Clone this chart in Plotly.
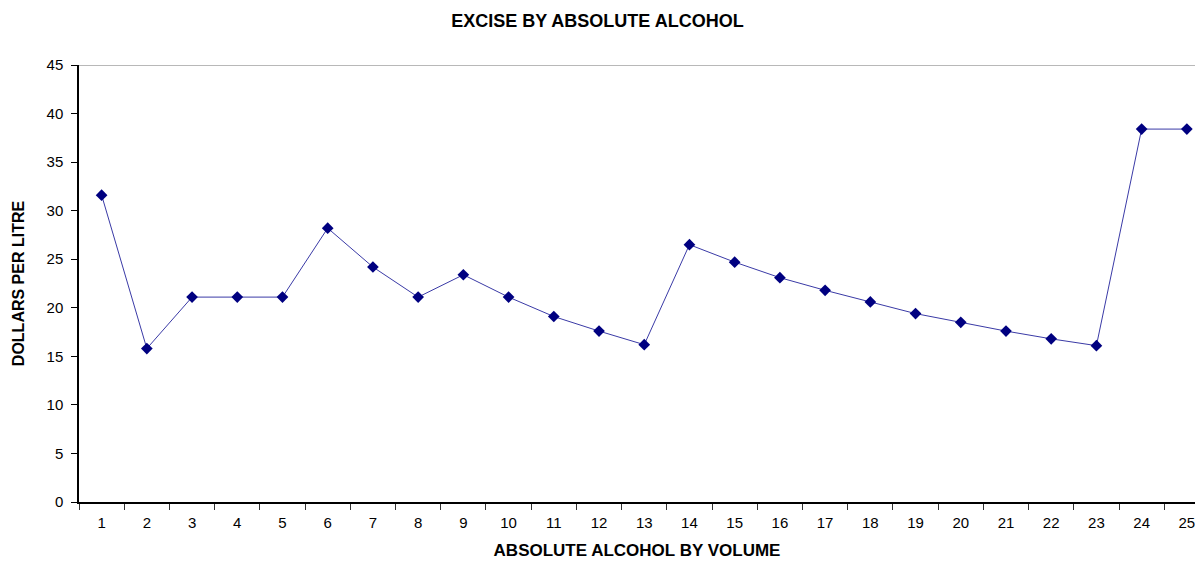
import plotly.graph_objects as go

categories = [str(i) for i in range(1, 26)]
dollars_per_litre = [31.6, 15.8, 21.1, 21.1, 21.1, 28.2, 24.2, 21.1, 23.4, 21.1,
                     19.1, 17.6, 16.2, 26.5, 24.7, 23.1, 21.8, 20.6, 19.4, 18.5,
                     17.6, 16.8, 16.1, 38.4, 38.4]
y_ticks = [0, 5, 10, 15, 20, 25, 30, 35, 40, 45]

FONT = "Liberation Sans, Arial, sans-serif"

fig = go.Figure()
fig.add_trace(go.Scatter(
    x=categories, y=dollars_per_litre, mode="lines+markers",
    line=dict(color="#3a3aa6", width=1),
    marker=dict(symbol="diamond", size=9, color="#000080"),
    showlegend=False, cliponaxis=False,
))

fig.add_shape(type="line", xref="paper", yref="y", x0=0, x1=1, y0=45, y1=45,
              line=dict(color="#a0a0a0", width=1.5), layer="below")

fig.update_layout(
    width=1195, height=561,
    margin=dict(l=79, r=0, t=65, b=59, autoexpand=False),
    paper_bgcolor="white", plot_bgcolor="white",
    font=dict(family=FONT, size=15, color="black"),
    title=dict(text="<b>EXCISE BY ABSOLUTE ALCOHOL</b>", x=0.5, xanchor="center",
               xref="container", y=1 - 21 / 561, yref="container", yanchor="middle",
               font=dict(size=18, family=FONT)),
    xaxis=dict(type="category", range=[-0.5, 24.18], tickson="boundaries",
               ticks="outside", ticklen=6, tickcolor="#333333", tickwidth=1,
               showline=True, linecolor="black", linewidth=1.5, showgrid=False,
               tickfont=dict(size=15), zeroline=False, automargin=False,
               ticklabelstandoff=6,
               title=dict(text="<b>ABSOLUTE ALCOHOL BY VOLUME</b>", standoff=14,
                          font=dict(size=17))),
    yaxis=dict(range=[0, 45], tickvals=y_ticks, ticks="outside", ticklen=6,
               tickcolor="black", showline=True, linecolor="black", linewidth=1.5,
               showgrid=False, zeroline=False, tickfont=dict(size=15),
               automargin=False, ticklabelstandoff=5,
               title=dict(text="<b>DOLLARS PER LITRE</b>", standoff=18,
                          font=dict(size=16))),
)

fig.write_html("out.html", config={"displayModeBar": False})

with open("out.html", "r", encoding="utf-8") as f:
    html = f.read()
html = html.replace("<head>", "<head><style>html,body{margin:0;padding:0;overflow:hidden;}</style>", 1)
with open("out.html", "w", encoding="utf-8") as f:
    f.write(html)
